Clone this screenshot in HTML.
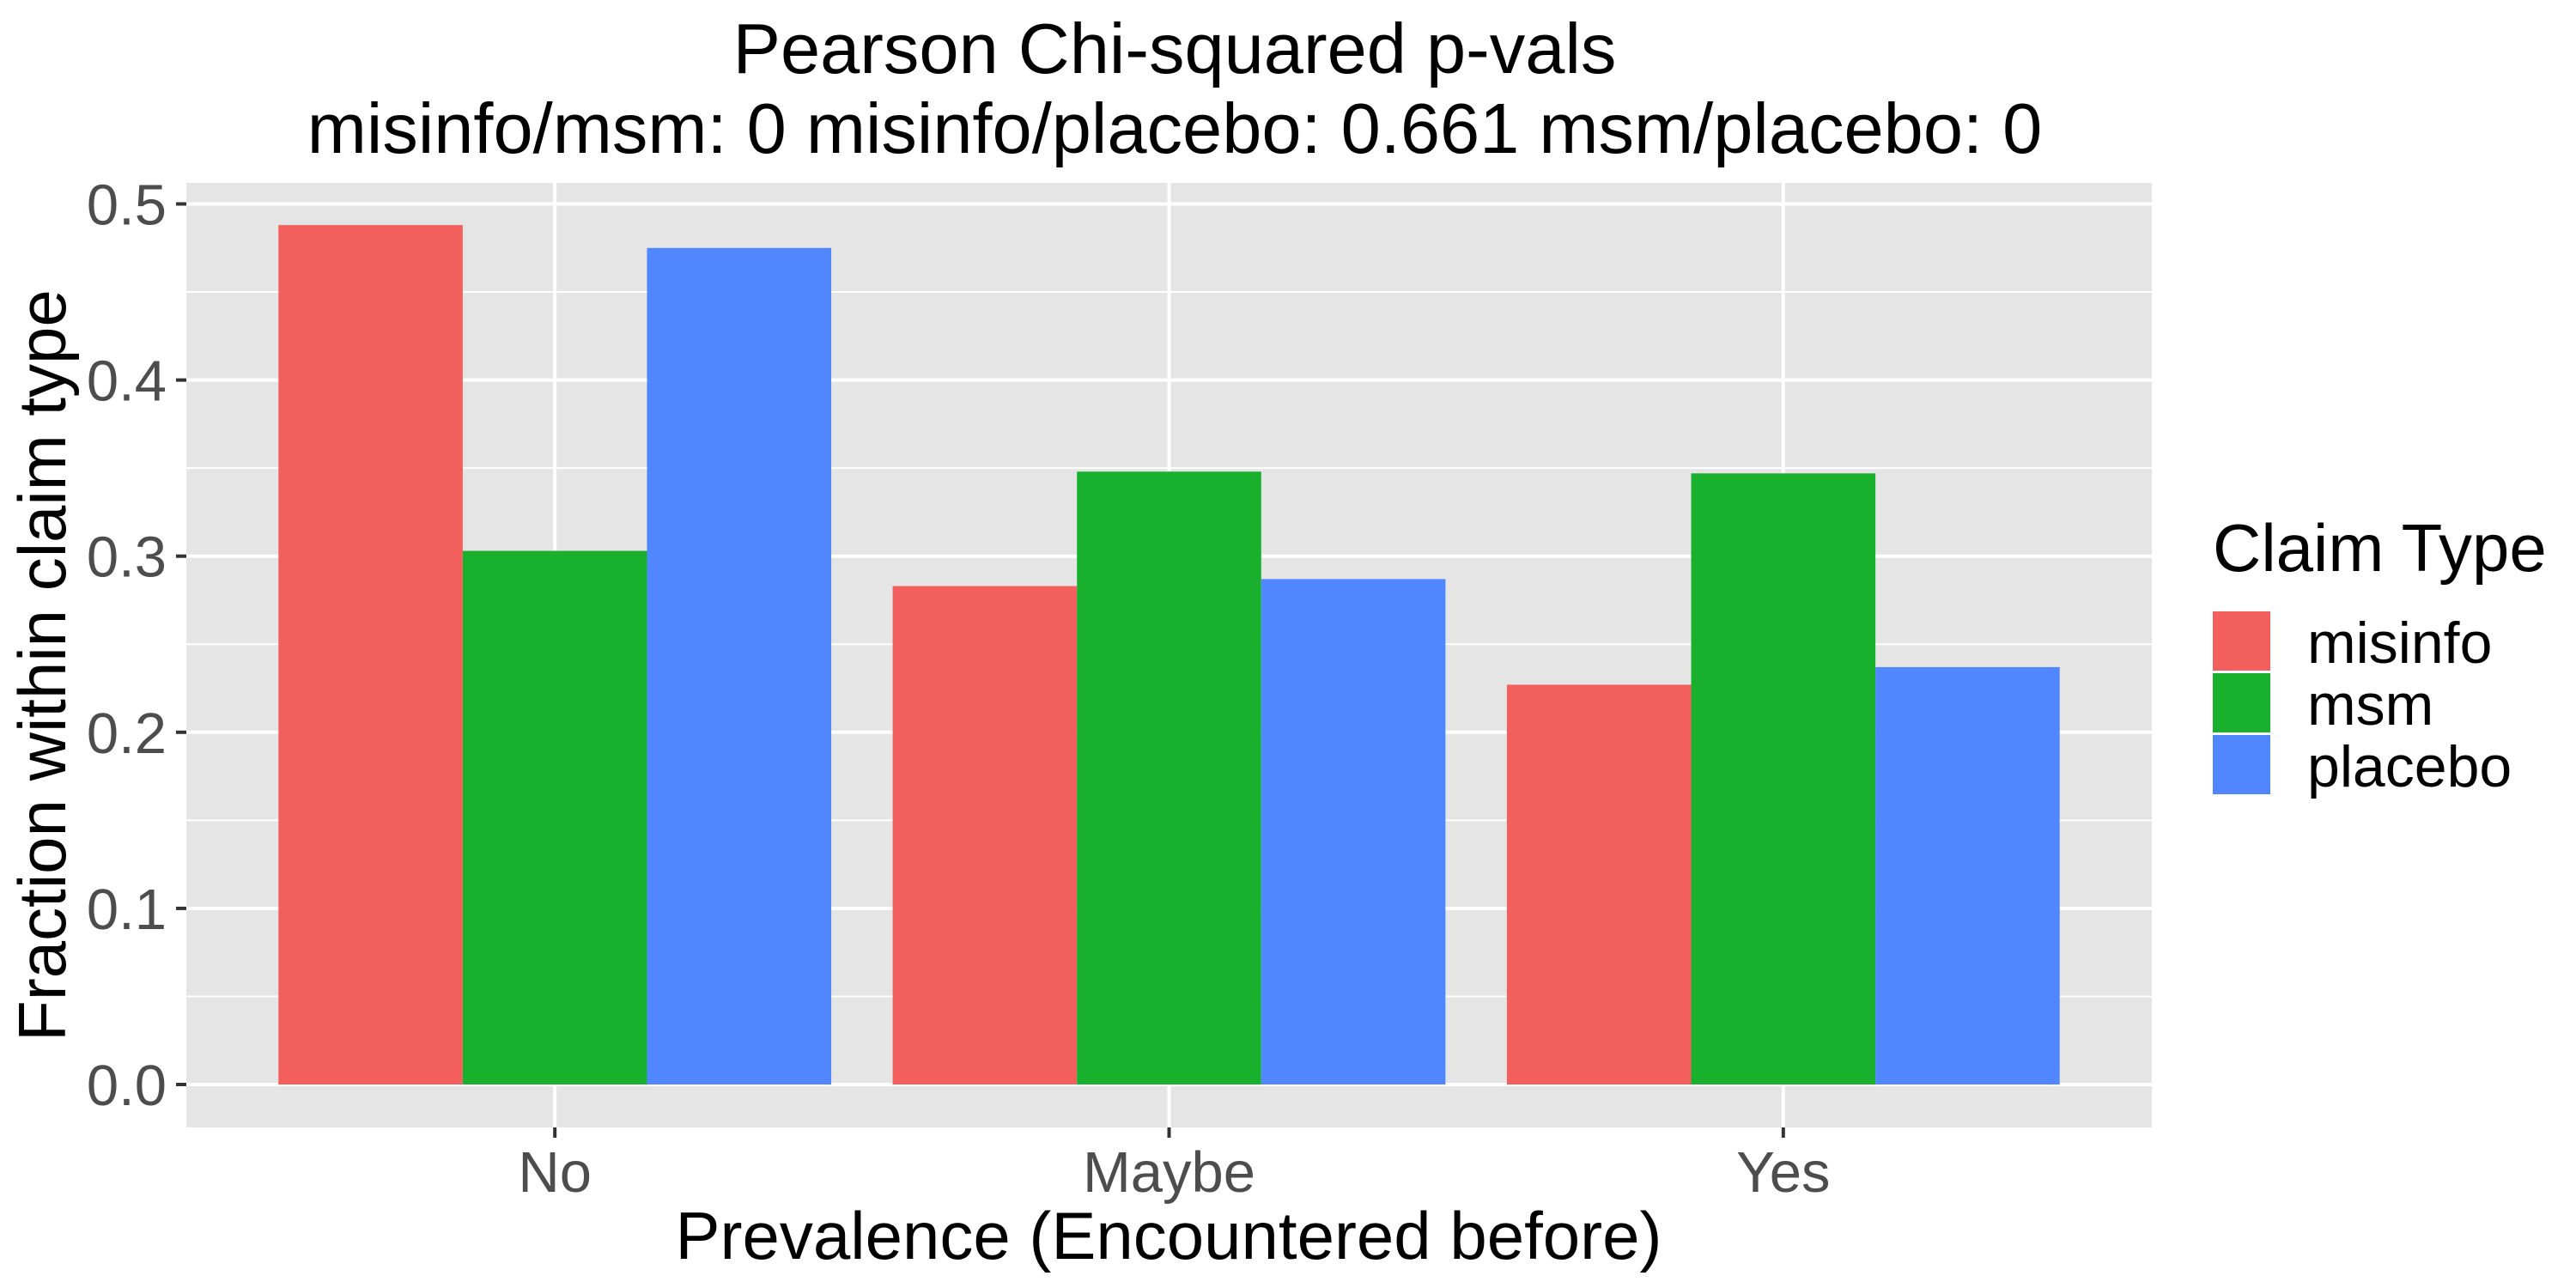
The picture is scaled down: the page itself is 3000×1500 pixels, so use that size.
<!DOCTYPE html>
<html><head><meta charset="utf-8"><style>
html,body{margin:0;padding:0;background:#fff;}
svg{display:block;font-family:"Liberation Sans",Arial,sans-serif;}
</style></head><body>
<svg id="chart" width="3000" height="1500" viewBox="0 0 3000 1500" xmlns="http://www.w3.org/2000/svg">
<rect width="3000" height="1500" fill="#fff"/>
<text x="1368" y="85" text-anchor="middle" font-size="83" fill="#000">Pearson Chi-squared p-vals</text>
<text x="1368" y="178" text-anchor="middle" font-size="83" fill="#000">misinfo/msm: 0 misinfo/placebo: 0.661 msm/placebo: 0</text>
<rect x="217" y="213" width="2289" height="1100" fill="#e5e5e5"/>
<g id="grid"></g>
<g id="bars"></g>
<g id="axes"></g>
<text x="1361" y="1466" text-anchor="middle" font-size="78" fill="#000">Prevalence (Encountered before)</text>
<text transform="translate(76,775) rotate(-90)" text-anchor="middle" font-size="78" fill="#000">Fraction within claim type</text>
<g id="legend">
<text x="2577" y="665" font-size="78" fill="#000">Claim Type</text>
</g>
</svg>
<script>
const categories = ["No", "Maybe", "Yes"];
const seriesNames = ["misinfo", "msm", "placebo"];
const misinfoVals = [0.488, 0.283, 0.227];
const msmVals = [0.303, 0.348, 0.347];
const placeboVals = [0.475, 0.287, 0.237];
const yTicks = [0, 0.1, 0.2, 0.3, 0.4, 0.5];
const yTickLabels = ["0.0", "0.1", "0.2", "0.3", "0.4", "0.5"];

const NS = "http://www.w3.org/2000/svg";
const colors = ["#f25f5c", "#19b02e", "#5086ff"];
const series = [misinfoVals, msmVals, placeboVals];
const pL = 217, pR = 2506, y0px = 1263, yUnit = 2051;
const step = (pR - pL) / (categories.length + 0.2);
function xScale(i) { return pL + (0.6 + i) * step; }
function yScale(v) { return y0px - v * yUnit; }
function mk(tag, attrs, parent) {
  const el = document.createElementNS(NS, tag);
  for (const k in attrs) el.setAttribute(k, attrs[k]);
  parent.appendChild(el);
  return el;
}
const grid = document.getElementById("grid");
const bars = document.getElementById("bars");
const axes = document.getElementById("axes");
for (let i = 0; i < yTicks.length - 1; i++) {
  const y = yScale((yTicks[i] + yTicks[i + 1]) / 2);
  const l = mk("line", {x1: pL, x2: pR, y1: y, y2: y, stroke: "#fff", "stroke-width": 2}, grid);
  
  
}
yTicks.forEach((t, i) => {
  const y = yScale(t);
  const l = mk("line", {x1: pL, x2: pR, y1: y, y2: y, stroke: "#fff", "stroke-width": 4}, grid);
  
  
  const tk = mk("line", {x1: pL - 12, x2: pL, y1: y, y2: y, stroke: "#333", "stroke-width": 4}, axes);
  
  
  const tx = mk("text", {x: pL - 23, y: y + 24, "text-anchor": "end", "font-size": 67, fill: "#4d4d4d"}, axes);
  tx.textContent = yTickLabels[i];
  
  
});
categories.forEach((c, i) => {
  const x = xScale(i);
  const l = mk("line", {x1: x, x2: x, y1: 213, y2: 1313, stroke: "#fff", "stroke-width": 4}, grid);
  
  
  const tk = mk("line", {x1: x, x2: x, y1: 1313, y2: 1325, stroke: "#333", "stroke-width": 4}, axes);
  
  
  const tx = mk("text", {x: x, y: 1388, "text-anchor": "middle", "font-size": 67, fill: "#4d4d4d"}, axes);
  tx.textContent = c;
  
  
  const bw = step * 0.9 / 3;
  series.forEach((vals, s) => {
    const bx = x - step * 0.45 + s * bw;
    const r = mk("rect", {x: bx, y: yScale(vals[i]), width: bw, height: y0px - yScale(vals[i]), fill: colors[s]}, bars);
    
    
  });
});
const legend = document.getElementById("legend");
seriesNames.forEach((n, s) => {
  const top = 712 + s * 72;
  const r = mk("rect", {x: 2577, y: top, width: 67, height: 69, fill: colors[s]}, legend);
  
  
  const t = mk("text", {x: 2687, y: top + 60, "font-size": 68, fill: "#000"}, legend);
  t.textContent = n;
  
  
});
</script>
</body></html>
